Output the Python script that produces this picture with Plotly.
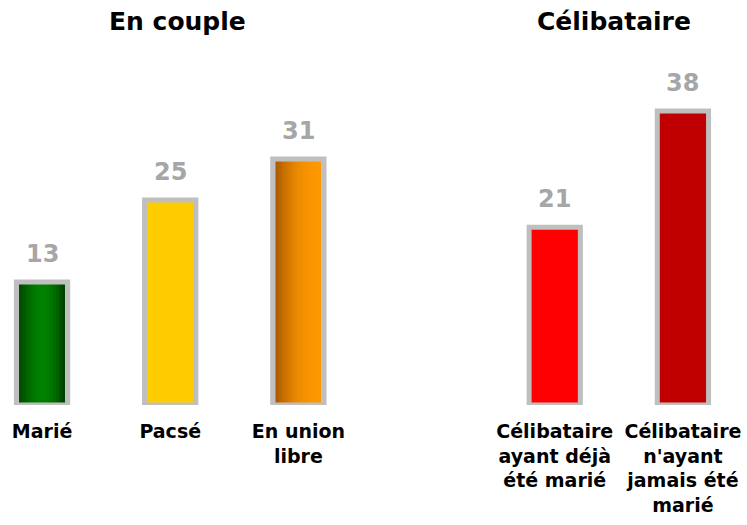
import plotly.graph_objects as go

# ---- data ----
categories = ["Marié", "Pacsé", "En union<br>libre", " ",
              "Célibataire<br>ayant déjà<br>été marié",
              "Célibataire<br>n'ayant<br>jamais été<br>marié"]
values = [13, 25, 31, None, 21, 38]
value_labels = ["13", "25", "31", "", "21", "38"]
group_titles = ["En couple", "Célibataire"]

# ---- style ----
FONT = "Tahoma, DejaVu Sans, sans-serif"
fill_colors = ["rgba(0,0,0,0)", "#FFCC00", "rgba(0,0,0,0)", "rgba(0,0,0,0)", "#FF0000", "#C00000"]
gradients = {
    0: ["#004600", "#006800", "#008000", "#008000", "#006800", "#003c00"],
    2: ["#A85800", "#C87000", "#E48400", "#F49000", "#FA9600", "#FF9900"],
}
BASE = -5
BAR_W = 0.4
INNER_W = 0.362
N_STRIPS = 15


def hex_to_rgb(h):
    h = h.lstrip("#")
    return tuple(int(h[i:i + 2], 16) for i in (0, 2, 4))


def interp(stops, t):
    pos = t * (len(stops) - 1)
    i = min(int(pos), len(stops) - 2)
    f = pos - i
    a, b = hex_to_rgb(stops[i]), hex_to_rgb(stops[i + 1])
    c = [round(a[k] + (b[k] - a[k]) * f) for k in range(3)]
    return f"rgb({c[0]},{c[1]},{c[2]})"


fig = go.Figure()

# gradient strips (drawn under the bordered bars)
sw = INNER_W / N_STRIPS
for idx, stops in gradients.items():
    for k in range(N_STRIPS):
        last = k == N_STRIPS - 1
        fig.add_trace(go.Bar(
            x=[categories[idx]], y=[values[idx] - BASE], base=BASE,
            width=sw if last else sw * 1.6, offset=-INNER_W / 2 + k * sw,
            marker=dict(color=interp(stops, (k + 0.5) / N_STRIPS), line=dict(width=0)),
            hoverinfo="skip", showlegend=False, cliponaxis=False,
        ))

# main bars with gray border
fig.add_trace(go.Bar(
    x=categories, y=[(v - BASE) if v is not None else None for v in values], base=BASE,
    width=BAR_W, offset=-BAR_W / 2,
    marker=dict(color=fill_colors, line=dict(color="#BFBFBF", width=5)),
    showlegend=False, cliponaxis=False, hoverinfo="skip",
))

# value labels
for c, v, t in zip(categories, values, value_labels):
    if v is None:
        continue
    fig.add_annotation(x=c, y=v, text=f"<b>{t}</b>", showarrow=False,
                       yanchor="bottom", yshift=12,
                       font=dict(family=FONT, size=24, color="#A6A6A6"))

# group titles
for t, xp in zip(group_titles, [0.237, 0.822]):
    fig.add_annotation(xref="paper", yref="paper", x=xp, y=1.095, text=f"<b>{t}</b>",
                       showarrow=False, xanchor="center", yanchor="middle",
                       font=dict(family=FONT, size=25, color="#000000"))

fig.update_layout(
    width=747, height=525,
    margin=dict(l=0, r=0, t=55, b=120),
    barmode="overlay",
    paper_bgcolor="white", plot_bgcolor="white",
    font=dict(family=FONT, color="#000000"),
    xaxis=dict(type="category", categoryorder="array", categoryarray=categories,
               range=[-0.328, 5.5], showgrid=False, zeroline=False, showline=False,
               ticks="", tickfont=dict(family=FONT, size=19, color="#000000"),
               ticklabelstandoff=13),
    yaxis=dict(range=[BASE, 46.2], visible=False),
)
fig.update_xaxes(tickvals=categories, ticktext=[f"<b>{c}</b>" for c in categories])

fig.write_html("out.html", config={"displayModeBar": False},
               post_script="document.body.style.margin='0';document.body.style.overflow='hidden';")
